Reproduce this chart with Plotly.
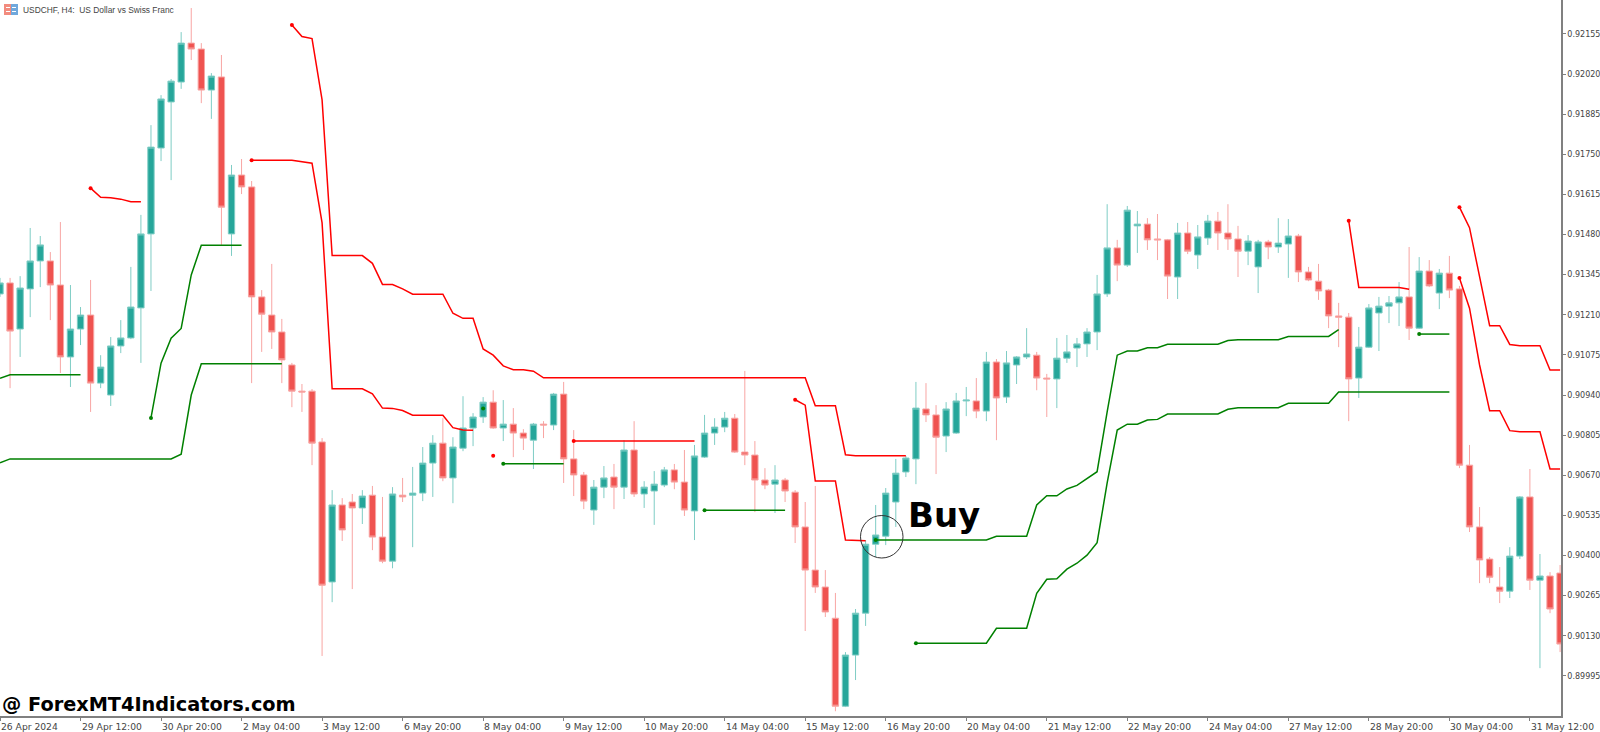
import plotly.graph_objects as go

POINT = 1e-5

opens = [91280,91317,91162,91297,91391,91391,91310,91068,91162,91209,90980,90940,91105,91132,91233,91482,91771,91926,91993,92124,
92104,91966,92010,91482,91680,91640,91270,91209,91152,91041,90953,90953,90782,90311,90570,90580,90560,90603,90462,90381,
90603,90603,90610,90711,90778,90661,90761,90829,90866,90916,90829,90842,90812,90788,90842,90839,90943,90725,90671,90553,
90630,90664,90630,90755,90607,90617,90637,90688,90647,90550,90731,90812,90832,90862,90748,90738,90654,90640,90654,90613,
90496,90351,90294,90189,89893,90065,90206,90438,90465,90580,90681,90725,90893,90873,90802,90812,90920,90920,90886,91051,
90933,91041,91068,91074,90997,90994,91064,91098,91112,91152,91280,91435,91377,91509,91515,91465,91462,91337,91485,91411,
91468,91525,91485,91465,91424,91371,91455,91438,91448,91475,91354,91323,91293,91206,91202,90997,91101,91216,91239,91250,
91270,91165,91357,91283,91350,91297,90704,90496,90388,90294,90280,90398,90597,90317,90331,90341]
highs = [91334,91334,91340,91502,91475,91421,91522,91310,91236,91327,91074,91135,91192,91371,91546,91848,91949,92003,92161,92242,
92124,92023,92084,91714,91734,91660,91293,91381,91196,91048,90977,90960,90795,90620,90593,90607,90620,90634,90597,90630,
90661,90698,90765,90805,90862,90798,90936,90879,90933,90956,90923,90896,90825,90846,90852,90947,90984,90822,90681,90654,
90701,90708,90788,90852,90650,90684,90698,90708,90755,90772,90873,90862,90883,90876,91021,90785,90694,90704,90661,90620,
90580,90634,90351,90274,90075,90220,90452,90570,90627,90725,90735,90984,90980,90906,90916,90947,90967,90997,91085,91061,
91088,91071,91165,91085,91011,91132,91142,91132,91165,91344,91582,91462,91576,91559,91535,91549,91465,91519,91522,91512,
91546,91556,91582,91509,91478,91462,91462,91535,91532,91482,91371,91381,91297,91250,91216,91169,91246,91270,91273,91320,
91438,91404,91394,91364,91408,91307,90772,90563,90395,90361,90428,90600,90691,90405,90344,90368]
lows = [91270,90963,91068,91202,91303,91192,91014,90967,91108,90883,90963,90903,91081,91128,91048,91290,91727,91663,91970,92067,
91922,91869,91445,91408,91616,90980,91085,91095,90980,90899,90883,90704,90062,90243,90449,90287,90506,90418,90374,90357,
90580,90428,90583,90597,90650,90576,90751,90768,90846,90826,90785,90731,90755,90691,90795,90822,90644,90600,90556,90503,
90593,90556,90590,90597,90560,90503,90630,90623,90533,90452,90728,90772,90815,90745,90704,90546,90623,90543,90580,90442,
90146,90274,90193,89876,89890,89981,90163,90395,90435,90496,90664,90640,90849,90674,90748,90809,90869,90862,90852,90788,
90913,90977,91061,90956,90866,90896,91048,91034,91068,91091,91270,91323,91371,91418,91428,91394,91263,91263,91414,91364,
91445,91428,91428,91337,91377,91283,91397,91418,91334,91320,91323,91260,91165,91101,90852,90930,91098,91088,91182,91172,
91125,91162,91303,91229,91266,90694,90479,90307,90307,90240,90257,90388,90284,90021,90206,90075]
closes = [91317,91155,91300,91391,91445,91310,91068,91162,91209,90980,91034,91105,91132,91236,91482,91774,91936,91996,92124,92104,
91966,92013,91572,91680,91640,91270,91212,91152,91058,90953,90950,90778,90300,90570,90486,90560,90600,90462,90381,90607,
90597,90610,90711,90778,90661,90765,90829,90866,90916,90829,90842,90812,90795,90842,90839,90943,90725,90671,90583,90630,
90661,90630,90755,90607,90630,90640,90688,90647,90553,90735,90812,90832,90862,90748,90738,90654,90637,90654,90617,90496,
90351,90294,90210,89893,90065,90206,90438,90469,90610,90677,90728,90896,90873,90798,90893,90920,90923,90886,91051,90930,
91048,91068,91078,90997,90994,91064,91085,91112,91152,91280,91435,91377,91562,91515,91462,91462,91340,91485,91424,91472,
91525,91485,91465,91424,91458,91455,91438,91451,91475,91354,91327,91290,91206,91202,90994,91101,91233,91239,91250,91270,
91165,91357,91307,91350,91293,90704,90496,90385,90327,90280,90398,90597,90317,90331,90220,90102]

tick_every = 8
x_tick_labels = ["26 Apr 2024","29 Apr 12:00","30 Apr 20:00","2 May 04:00","3 May 12:00","6 May 20:00","8 May 04:00",
"9 May 12:00","10 May 20:00","14 May 04:00","15 May 12:00","16 May 20:00","20 May 04:00","21 May 12:00","22 May 20:00",
"24 May 04:00","27 May 12:00","28 May 20:00","30 May 04:00","31 May 12:00"]
y_ticks = [92155,92020,91885,91750,91615,91480,91345,91210,91075,90940,90805,90670,90535,90400,90265,90130,89995]

red_lines = [
 ([9,10,11,12,13,14],[91636,91605,91604,91599,91590,91590]),
 ([25,29,31,32,33,36,37,38,39,40,41,44,45,46,47],[91730,91730,91720,91519,90961,90961,90944,90896,90895,90888,90872,90872,90830,90822,90821]),
 ([29,30,31,32,33,36,37,38,39,40,41,44,45,46,47,48,49,50,51,52,53,54,80,81,83,84,85,90],
  [92185,92146,92139,91933,91409,91409,91383,91312,91312,91297,91279,91279,91215,91198,91198,91095,91074,91038,91025,91025,91020,90998,90998,90904,90904,90739,90736,90736]),
 ([57,69],[90785,90785]),
 ([49],[90736]),
 ([79,80,81,83,84,86],[90924,90906,90651,90651,90452,90450]),
 ([134,135,139,140],[91526,91302,91302,91296]),
 ([145,146,147,148,149,150,151,153,154,155],[91572,91503,91338,91173,91173,91110,91106,91106,91024,91024]),
 ([145,146,147,148,149,150,151,153,154,155],[91334,91232,91041,90887,90887,90820,90816,90816,90691,90691]),
]
green_lines = [
 ([0,1,8],[90996,91008,91008]),
 ([0,1,17,18,19,20,28],[90712,90725,90725,90741,90940,91045,91045]),
 ([15,16,17,18,19,20,24],[90863,91047,91131,91164,91344,91444,91444]),
 ([48],[90895]),
 ([50,56],[90709,90709]),
 ([70,78],[90552,90552]),
 ([87,98,99,102,103,104,105,106,107,109,110,111,112,113,114,115,116,121,122,123,127,128,132,133],
  [90452,90452,90465,90465,90570,90601,90601,90624,90636,90682,90883,91074,91088,91088,91099,91099,91111,91111,91123,91126,91126,91137,91137,91160]),
 ([91,98,99,102,103,104,105,106,107,108,109,110,111,112,113,114,115,116,121,122,123,127,128,132,133,144],
  [90105,90105,90155,90155,90273,90320,90322,90354,90374,90401,90443,90644,90822,90842,90842,90856,90858,90876,90876,90892,90897,90897,90912,90912,90950,90950]),
 ([141,144],[91145,91145]),
]

PX_W, PX_H = 1561.0, 716.0
def px(v): return v / PX_W
def py(v): return 1 - v / PX_H

idx = list(range(len(opens)))
fig = go.Figure()
fig.add_trace(go.Candlestick(
    x=idx,
    open=[v*POINT for v in opens], high=[v*POINT for v in highs],
    low=[v*POINT for v in lows], close=[v*POINT for v in closes],
    increasing=dict(fillcolor="#26A69A", line=dict(color="#7FCDC5", width=1)),
    decreasing=dict(fillcolor="#EF5350", line=dict(color="#F8A5A3", width=1)),
    whiskerwidth=0, showlegend=False, hoverinfo="skip"))

def add_lines(groups, color):
    for xs, ys in groups:
        fig.add_trace(go.Scatter(x=xs, y=[v*POINT for v in ys], mode="lines", showlegend=False, hoverinfo="skip",
                                 line=dict(color=color, width=1.5)))
        if xs[0] > 0:
            fig.add_trace(go.Scatter(x=xs[:1], y=[ys[0]*POINT], mode="markers", showlegend=False, hoverinfo="skip",
                                     marker=dict(color=color, size=4)))
add_lines(red_lines, "#FF0000")
add_lines(green_lines, "#008000")

annotations = []
for k, t in enumerate(x_tick_labels):
    annotations.append(dict(x=k*tick_every, y=0, xref="x", yref="paper", yshift=-3, text=t, showarrow=False,
                            xanchor="left", yanchor="top", xshift=-1,
                            font=dict(family="DejaVu Sans", size=9.2, color="#444444")))
annotations += [
    dict(x=px(906), y=py(527), xref="paper", yref="paper", text="<b>Buy</b>", showarrow=False, xanchor="left", yanchor="bottom",
         yshift=-10, font=dict(family="DejaVu Sans", size=34, color="#000000")),
    dict(x=px(0), y=py(711), xref="paper", yref="paper", text="<b>@ ForexMT4Indicators.com</b>", showarrow=False, xanchor="left", yanchor="bottom",
         yshift=-7, font=dict(family="DejaVu Sans", size=19.3, color="#000000")),
    dict(x=px(21), y=py(10), xref="paper", yref="paper", text="USDCHF, H4:  US Dollar vs Swiss Franc", showarrow=False, xanchor="left", yanchor="middle",
         font=dict(family="Liberation Sans", size=8.4, color="#444444")),
]

shapes = [
    dict(type="circle", xref="paper", yref="paper", x0=px(860.5), x1=px(903), y0=py(558), y1=py(515.5),
         line=dict(color="#333333", width=1)),
    dict(type="rect", xref="paper", yref="paper", x0=px(4), x1=px(11), y0=py(15), y1=py(4), fillcolor="#F28B7E", line=dict(width=0)),
    dict(type="rect", xref="paper", yref="paper", x0=px(11), x1=px(18), y0=py(15), y1=py(4), fillcolor="#6FA8DC", line=dict(width=0)),
    dict(type="rect", xref="paper", yref="paper", x0=px(6), x1=px(10), y0=py(8), y1=py(7), fillcolor="#FFFFFF", line=dict(width=0)),
    dict(type="rect", xref="paper", yref="paper", x0=px(6), x1=px(10), y0=py(12), y1=py(11), fillcolor="#FFFFFF", line=dict(width=0)),
    dict(type="rect", xref="paper", yref="paper", x0=px(12), x1=px(16), y0=py(8), y1=py(7), fillcolor="#FFFFFF", line=dict(width=0)),
    dict(type="rect", xref="paper", yref="paper", x0=px(12), x1=px(16), y0=py(12), y1=py(11), fillcolor="#FFFFFF", line=dict(width=0)),
]

fig.update_layout(
    width=1600, height=732, autosize=False,
    margin=dict(l=0, r=39, t=0, b=16),
    paper_bgcolor="#FFFFFF", plot_bgcolor="#FFFFFF",
    showlegend=False, boxgap=0.1,
    annotations=annotations, shapes=shapes,
    xaxis=dict(range=[0, 155.09], rangeslider=dict(visible=False), showgrid=False, zeroline=False,
               tickmode="array", tickvals=[k*tick_every for k in range(len(x_tick_labels))], ticktext=[""]*len(x_tick_labels),
               ticks="outside", ticklen=3, tickcolor="#808080", showline=True, linecolor="#808080", linewidth=1.5),
    yaxis=dict(range=[89860*POINT, 92269*POINT], side="right", showgrid=False, zeroline=False,
               tickmode="array", tickvals=[v*POINT for v in y_ticks], tickformat=".5f",
               ticks="outside", ticklen=3, tickcolor="#808080", showline=True, linecolor="#808080", linewidth=1.5,
               tickfont=dict(family="DejaVu Sans", size=8.0, color="#444444")),
)
fig.write_html("out.html", config=dict(displayModeBar=False), post_script="document.body.style.margin='0';")
